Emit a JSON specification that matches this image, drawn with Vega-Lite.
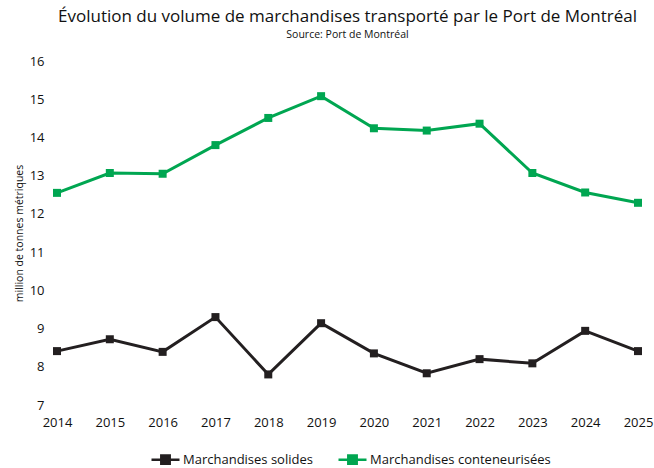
{
  "$schema": "https://vega.github.io/schema/vega-lite/v6.json",
  "width": 581,
  "height": 344,
  "autosize": {"type": "none"},
  "padding": {"left": 57, "top": 61, "right": 16, "bottom": 63},
  "background": "white",
  "title": {
    "text": "Évolution du volume de marchandises transporté par le Port de Montréal",
    "subtitle": "Source: Port de Montréal",
    "anchor": "middle",
    "font": "Open Sans",
    "fontSize": 17,
    "fontWeight": "normal",
    "color": "#111111",
    "subtitleFont": "Open Sans",
    "subtitleFontSize": 10.5,
    "subtitleColor": "#111111",
    "subtitlePadding": 4,
    "offset": 14
  },
  "config": {
    "view": {"stroke": null},
    "font": "Open Sans",
    "axis": {"grid": false, "domain": false, "ticks": false, "labelFont": "Open Sans", "labelColor": "#111111", "labelFontSize": 13, "titleFont": "Open Sans"},
    "legend": {"labelFont": "Open Sans", "labelFontSize": 13, "labelColor": "#111111"}
  },
  "data": {
    "values": [
      {"annee": 2014, "serie": "Marchandises solides", "valeur": 8.41},
      {"annee": 2015, "serie": "Marchandises solides", "valeur": 8.72},
      {"annee": 2016, "serie": "Marchandises solides", "valeur": 8.39},
      {"annee": 2017, "serie": "Marchandises solides", "valeur": 9.30},
      {"annee": 2018, "serie": "Marchandises solides", "valeur": 7.80},
      {"annee": 2019, "serie": "Marchandises solides", "valeur": 9.14},
      {"annee": 2020, "serie": "Marchandises solides", "valeur": 8.35},
      {"annee": 2021, "serie": "Marchandises solides", "valeur": 7.83},
      {"annee": 2022, "serie": "Marchandises solides", "valeur": 8.20},
      {"annee": 2023, "serie": "Marchandises solides", "valeur": 8.09},
      {"annee": 2024, "serie": "Marchandises solides", "valeur": 8.94},
      {"annee": 2025, "serie": "Marchandises solides", "valeur": 8.41},
      {"annee": 2014, "serie": "Marchandises conteneurisées", "valeur": 12.55},
      {"annee": 2015, "serie": "Marchandises conteneurisées", "valeur": 13.07},
      {"annee": 2016, "serie": "Marchandises conteneurisées", "valeur": 13.05},
      {"annee": 2017, "serie": "Marchandises conteneurisées", "valeur": 13.80},
      {"annee": 2018, "serie": "Marchandises conteneurisées", "valeur": 14.51},
      {"annee": 2019, "serie": "Marchandises conteneurisées", "valeur": 15.08},
      {"annee": 2020, "serie": "Marchandises conteneurisées", "valeur": 14.24},
      {"annee": 2021, "serie": "Marchandises conteneurisées", "valeur": 14.18},
      {"annee": 2022, "serie": "Marchandises conteneurisées", "valeur": 14.36},
      {"annee": 2023, "serie": "Marchandises conteneurisées", "valeur": 13.07},
      {"annee": 2024, "serie": "Marchandises conteneurisées", "valeur": 12.56},
      {"annee": 2025, "serie": "Marchandises conteneurisées", "valeur": 12.29}
    ]
  },
  "encoding": {
    "x": {
      "field": "annee", "type": "quantitative",
      "scale": {"domain": [2014, 2025], "nice": false, "zero": false},
      "axis": {"title": null, "format": "d", "values": [2014,2015,2016,2017,2018,2019,2020,2021,2022,2023,2024,2025], "labelPadding": 11, "labelFlush": false, "labelOverlap": false}
    },
    "y": {
      "field": "valeur", "type": "quantitative",
      "scale": {"domain": [7, 16], "nice": false, "zero": false},
      "axis": {"title": "million de tonnes métriques", "titleFontSize": 10.5, "titleFontWeight": "normal", "titleColor": "#111111", "values": [7,8,9,10,11,12,13,14,15,16], "labelPadding": 13, "titlePadding": 5, "labelOverlap": false}
    },
    "color": {
      "field": "serie", "type": "nominal",
      "scale": {"domain": ["Marchandises solides", "Marchandises conteneurisées"], "range": ["#231F20", "#00A651"]},
      "legend": {
        "title": null, "orient": "none", "direction": "horizontal",
        "legendX": 93, "legendY": 383,
        "columnPadding": 20, "labelOffset": 2, "labelLimit": 300,
        "symbolType": "M-1,0H1M-0.3,-0.3H0.3V0.3H-0.3Z",
        "symbolSize": 784, "symbolStrokeWidth": 2.5
      }
    }
  },
  "layer": [
    {"mark": {"type": "line", "strokeWidth": 3}},
    {"mark": {"type": "point", "shape": "square", "filled": true, "size": 64, "opacity": 1}}
  ]
}
